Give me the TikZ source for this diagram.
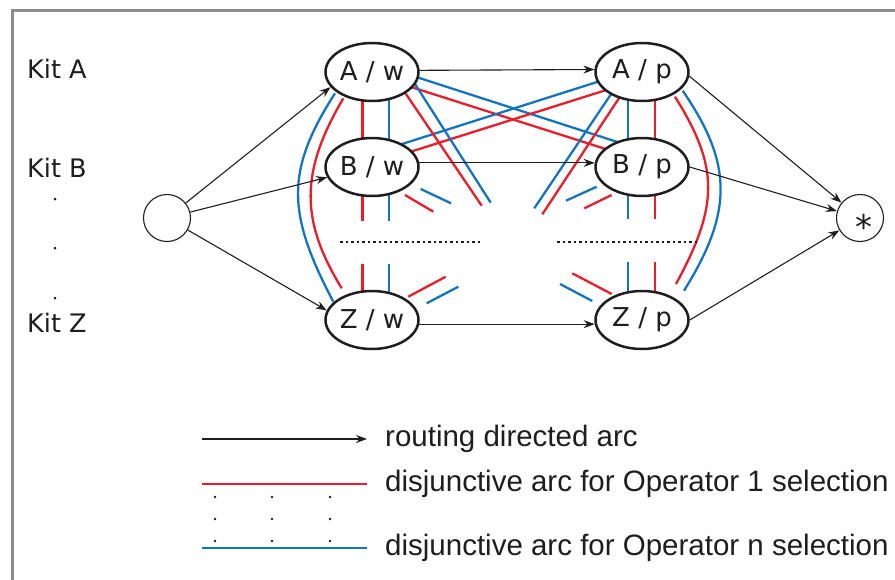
\documentclass[tikz,border=0pt]{standalone}
\usepackage{fontspec}
\setmainfont{DejaVu Sans}
\newfontfamily\legfont{Liberation Sans}
\usetikzlibrary{shapes.geometric,arrows.meta,calc,backgrounds}
\definecolor{opred}{RGB}{232,30,42}
\definecolor{opblue}{RGB}{22,116,190}
\definecolor{framegray}{RGB}{140,140,140}
\definecolor{inkblack}{RGB}{30,30,30}
\begin{document}
\begin{tikzpicture}[x=1pt,y=-1pt,
  task/.style={ellipse, draw=inkblack, line width=2.5pt, fill=white, minimum width=93pt, minimum height=58pt, inner sep=0pt, text=inkblack, font=\fontsize{26}{30}\selectfont},
  term/.style={circle, draw=inkblack, line width=1.1pt, fill=white, minimum size=47pt, inner sep=0pt, text=inkblack},
  route/.style={line width=1.1pt, draw=inkblack, -{Stealth[length=11pt,width=8pt]}},
  op1/.style={line width=2.3pt, draw=opred},
  opn/.style={line width=2.3pt, draw=opblue},
  kit/.style={anchor=west, inner sep=0pt, text=inkblack, font=\fontsize{25.5}{29}\selectfont},
  legtext/.style={anchor=west, inner sep=0pt, text=inkblack, font=\legfont\fontsize{29.5}{33}\selectfont},
  smalldot/.style={fill=inkblack, draw=none},
  dotline/.style={line width=2.3pt, draw=inkblack, dash pattern=on 2.6pt off 2.9pt}]
\useasboundingbox (0,0) rectangle (895,579);
\clip (0,0) rectangle (895,579);

% nodes
\node[task] (Aw) at (372,72) {A / w};
\node[task] (Bw) at (372,167) {B / w};
\node[task] (Zw) at (372,320) {Z / w};
\node[task] (Ap) at (642,72) {A / p};
\node[task] (Bp) at (642,167) {B / p};
\node[task] (Zp) at (642,320) {Z / p};
\node[term] (src) at (167,218) {};
\node[term] (sink) at (860,218) {\hspace*{8pt}\raisebox{-21pt}[0pt][0pt]{\fontsize{34}{34}\selectfont *}};

% kit labels
\node[kit] (kA) at (27,69) {Kit A};
\node[kit] (kB) at (27,167.5) {Kit B};
\node[kit] (kZ) at (27,323) {Kit Z};
\foreach \yy in {199,248,298} \fill[smalldot] (55,\yy) circle (1.5pt);

% free ends of stubs
\coordinate (bwR) at ($(Bw)+(-9.5,54)$);
\coordinate (bwB) at ($(Bw)+(17,54)$);
\coordinate (zwR) at ($(Zw)+(-9.5,-56)$);
\coordinate (zwB) at ($(Zw)+(17,-56)$);
\coordinate (bpB) at ($(Bp)+(-14,52)$);
\coordinate (bpR) at ($(Bp)+(13,52)$);
\coordinate (zpB) at ($(Zp)+(-14,-58)$);
\coordinate (zpR) at ($(Zp)+(13,-58)$);
\coordinate (awzR) at ($(Aw)+(109.7,133.7)$);
\coordinate (awzB) at ($(Aw)+(118.7,130.7)$);
\coordinate (apzB) at ($(Ap)+(-107.7,136.3)$);
\coordinate (apzR) at ($(Ap)+(-99.7,142.3)$);
\coordinate (bwsR1) at ($(Bw)+(33,28)$);
\coordinate (bwsR2) at ($(Bw)+(61.3,44.7)$);
\coordinate (bwsB1) at ($(Bw)+(48.7,22)$);
\coordinate (bwsB2) at ($(Bw)+(79,36.3)$);
\coordinate (zwsR1) at ($(Zw)+(36.3,-23.3)$);
\coordinate (zwsR2) at ($(Zw)+(73.7,-43.3)$);
\coordinate (zwsB1) at ($(Zw)+(54.7,-16.7)$);
\coordinate (zwsB2) at ($(Zw)+(86.3,-33.3)$);
\coordinate (bpsB1) at ($(Bp)+(-45.3,19.7)$);
\coordinate (bpsB2) at ($(Bp)+(-76,33.7)$);
\coordinate (bpsR1) at ($(Bp)+(-30.3,28)$);
\coordinate (bpsR2) at ($(Bp)+(-57.7,41.3)$);
\coordinate (zpsR1) at ($(Zp)+(-30.3,-26)$);
\coordinate (zpsR2) at ($(Zp)+(-69.7,-46.7)$);
\coordinate (zpsB1) at ($(Zp)+(-49.7,-19)$);
\coordinate (zpsB2) at ($(Zp)+(-82,-36)$);

\begin{pgfonlayer}{background}
  \draw[framegray, line width=2.5pt] (12.5,10.5) rectangle (940,620);
  % vertical pairs
  \draw[op1] ($(Aw)+(-9.5,0)$) -- ($(Bw)+(-9.5,0)$);
  \draw[opn] ($(Aw)+(17,0)$) -- ($(Bw)+(17,0)$);
  \draw[op1] ($(Bw)+(-9.5,0)$) -- (bwR);
  \draw[opn] ($(Bw)+(17,0)$) -- (bwB);
  \draw[op1] ($(Zw)+(-9.5,0)$) -- (zwR);
  \draw[opn] ($(Zw)+(17,0)$) -- (zwB);
  \draw[opn] ($(Ap)+(-14,0)$) -- ($(Bp)+(-14,0)$);
  \draw[op1] ($(Ap)+(13,0)$) -- ($(Bp)+(13,0)$);
  \draw[opn] ($(Bp)+(-14,0)$) -- (bpB);
  \draw[op1] ($(Bp)+(13,0)$) -- (bpR);
  \draw[opn] ($(Zp)+(-14,0)$) -- (zpB);
  \draw[op1] ($(Zp)+(13,0)$) -- (zpR);
  % outer arcs
  \draw[op1] ($(Aw)+(-28.7,26.3)$) .. controls ($(Aw)+(-72,100)$) and ($(Zw)+(-72,-100)$) .. ($(Zw)+(-30.3,-31.7)$);
  \draw[opn] ($(Aw)+(-37,21.3)$) .. controls ($(Aw)+(-86,98)$) and ($(Zw)+(-86,-108)$) .. ($(Zw)+(-38.7,-18.3)$);
  \draw[op1] ($(Ap)+(33,24.7)$) .. controls ($(Ap)+(77,95)$) and ($(Zp)+(77,-115)$) .. ($(Zp)+(34,-36)$);
  \draw[opn] ($(Ap)+(40.7,18.7)$) .. controls ($(Ap)+(91,92)$) and ($(Zp)+(91,-108)$) .. ($(Zp)+(42,-29.3)$);
  % crossing diagonals
  \draw[op1] ($(Aw)+(8,5.1)$) -- ($(Bp)+(-10,-9.6)$);
  \draw[opn] ($(Aw)+(8,-6.7)$) -- ($(Bp)+(-10,-20.3)$);
  \draw[op1] ($(Bw)+(8,-5.6)$) -- ($(Ap)+(-10,9.9)$);
  \draw[opn] ($(Bw)+(8,-16)$) -- ($(Ap)+(-10,-1.1)$);
  % long diagonals, cut
  \draw[op1] ($(Aw)+(24.5,8)$) -- (awzR);
  \draw[opn] ($(Aw)+(40.5,8)$) -- (awzB);
  \draw[opn] ($(Ap)+(-21.5,8)$) -- (apzB);
  \draw[op1] ($(Ap)+(-14.3,13)$) -- (apzR);
  % short stubs
  \draw[op1] (bwsR1) -- (bwsR2);
  \draw[opn] (bwsB1) -- (bwsB2);
  \draw[op1] (zwsR1) -- (zwsR2);
  \draw[opn] (zwsB1) -- (zwsB2);
  \draw[opn] (bpsB1) -- (bpsB2);
  \draw[op1] (bpsR1) -- (bpsR2);
  \draw[op1] (zpsR1) -- (zpsR2);
  \draw[opn] (zpsB1) -- (zpsB2);
\end{pgfonlayer}

% dotted separators
\draw[dotline] (340,241.7) -- (480,241.7);
\draw[dotline] (557,241.7) -- (697,241.7);

% routing arcs
\draw[route] (src) -- (Aw.200);
\draw[route] (src) -- (Bw.193);
\draw[route] (src) -- (Zw.168);
\draw[route] (Aw.2.5) -- (Ap.177.5);
\draw[route] (Bw.5) -- (Bp.175);
\draw[route] (Zw.-5) -- (Zp.185);
\draw[route] (Ap.-5) -- (sink);
\draw[route] (Bp.east) -- (sink);
\draw[route] (Zp.east) -- (sink);

% legend
\coordinate (lgA1) at (202,439);
\coordinate (lgA2) at (367,439);
\coordinate (lgR1) at (202,484);
\coordinate (lgR2) at (367,484);
\coordinate (lgB1) at (202,548);
\coordinate (lgB2) at (367,548);
\draw[route] (lgA1) -- (lgA2);
\draw[op1] (lgR1) -- (lgR2);
\draw[opn] (lgB1) -- (lgB2);
\foreach \xx in {215,272,330}
  \foreach \yy in {497,519,541}
    \fill[smalldot] (\xx,\yy) circle (1.3pt);
\node[legtext] (l1) at (385,439) {routing directed arc};
\node[legtext] (l2) at (385,484) {disjunctive arc for Operator 1 selection};
\node[legtext] (l3) at (385,548) {disjunctive arc for Operator n selection};
\end{tikzpicture}
\end{document}
